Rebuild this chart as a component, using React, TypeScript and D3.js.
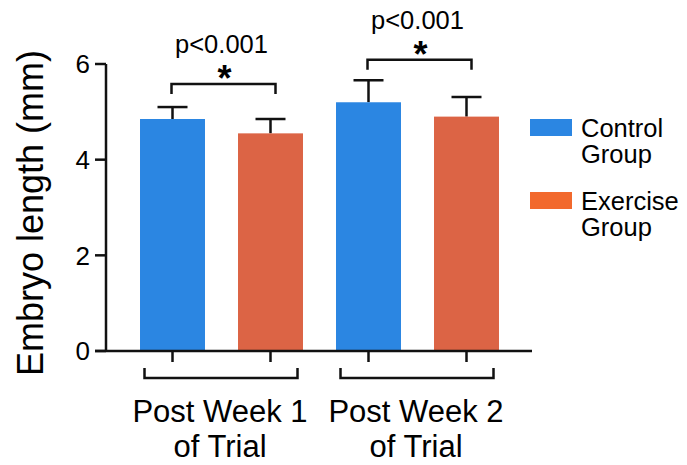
import React, { useEffect, useRef } from "react";
import * as d3 from "d3";

const weeks = ["Post Week 1", "Post Week 2"];
const groups = ["Control", "Exercise"];
const means = [
  [4.85, 4.55],
  [5.2, 4.9],
];
const errors = [
  [0.25, 0.3],
  [0.46, 0.41],
];
const pValues = ["p<0.001", "p<0.001"];
const bracketLevels = [5.58, 6.09];
const yTicks = [0, 2, 4, 6];

const App = () => {
  const svgRef = useRef<SVGSVGElement>(null);

  useEffect(() => {
    const width = 687;
    const height = 465;
    const font = "'Liberation Sans', Arial, Helvetica, sans-serif";
    const barColor = { Control: "#2b86e2", Exercise: "#dc6445" };
    const legendColor = { Control: "#2b86e2", Exercise: "#f2692d" };
    const stroke = "#111";
    const sw = 2.5;

    const svg = d3
      .select(svgRef.current)
      .attr("width", width)
      .attr("height", height)
      .style("font-family", font);

    svg.selectAll("*").remove();

    const x0 = d3.scaleBand().domain(weeks).range([123.5, 515.5]);
    const x1 = d3
      .scaleBand()
      .domain(groups)
      .range([0, x0.bandwidth()])
      .paddingInner(0.337)
      .paddingOuter(0.1685);
    const y = d3.scaleLinear().domain([0, 6]).range([351, 64]);

    const cx = (w: string, g: string) => x0(w)! + x1(g)! + x1.bandwidth() / 2;

    const rows = weeks.flatMap((w, i) =>
      groups.map((g, j) => ({ w, g, v: means[i][j], e: errors[i][j] }))
    );

    // error bars (upper half only), under the bars
    const eb = svg.append("g").attr("stroke", stroke).attr("stroke-width", sw);
    rows.forEach((d) => {
      const c = cx(d.w, d.g);
      eb.append("line").attr("x1", c).attr("x2", c).attr("y1", y(d.v)).attr("y2", y(d.v + d.e));
      eb.append("line").attr("x1", c - 15).attr("x2", c + 15).attr("y1", y(d.v + d.e)).attr("y2", y(d.v + d.e));
    });

    svg
      .append("g")
      .selectAll("rect")
      .data(rows)
      .join("rect")
      .attr("x", (d) => x0(d.w)! + x1(d.g)!)
      .attr("y", (d) => y(d.v))
      .attr("width", x1.bandwidth())
      .attr("height", (d) => y(0) - y(d.v))
      .attr("fill", (d) => barColor[d.g as "Control" | "Exercise"]);

    // axes
    const ax = svg.append("g").attr("stroke", stroke).attr("stroke-width", sw).attr("fill", "none");
    ax.append("line").attr("x1", 106).attr("x2", 106).attr("y1", y(6)).attr("y2", y(0));
    yTicks.forEach((t) => {
      ax.append("line").attr("x1", 95).attr("x2", 106).attr("y1", y(t)).attr("y2", y(t));
      svg
        .append("text")
        .attr("x", 90)
        .attr("y", y(t))
        .attr("dy", "0.36em")
        .attr("text-anchor", "end")
        .style("font-size", "26px")
        .text(t);
    });

    ax.append("line").attr("x1", 95).attr("x2", 532).attr("y1", y(0)).attr("y2", y(0));
    rows.forEach((d) => {
      const c = cx(d.w, d.g);
      ax.append("line").attr("x1", c).attr("x2", c).attr("y1", y(0)).attr("y2", y(0) + 11);
    });

    // group brackets + labels under the axis
    weeks.forEach((w) => {
      const l = x0(w)! + 21;
      const r = x0(w)! + x0.bandwidth() - 22;
      ax.append("path").attr("d", `M${l},${y(0) + 17}V${y(0) + 27}H${r}V${y(0) + 17}`);
      const mid = x0(w)! + x0.bandwidth() / 2 - 1.5;
      const t = svg.append("text").attr("text-anchor", "middle").style("font-size", "31px");
      t.append("tspan").attr("x", mid).attr("y", 422).text(w);
      t.append("tspan").attr("x", mid).attr("y", 457).text("of Trial");
    });

    // significance
    weeks.forEach((w, i) => {
      const l = cx(w, groups[0]) - 1;
      const r = cx(w, groups[1]) + 5;
      const by = y(bracketLevels[i]);
      svg
        .append("path")
        .attr("d", `M${l},${by + 10}V${by}H${r}V${by + 10}`)
        .attr("fill", "none")
        .attr("stroke", stroke)
        .attr("stroke-width", sw);
      const mid = (l + r) / 2;
      svg
        .append("text")
        .attr("x", mid + 1)
        .attr("y", by + 7)
        .attr("text-anchor", "middle")
        .style("font-size", "36px")
        .style("font-weight", "bold")
        .text("*");
      svg
        .append("text")
        .attr("x", mid - 2)
        .attr("y", by - 31)
        .attr("text-anchor", "middle")
        .style("font-size", "25.5px")
        .text(pValues[i]);
    });

    // y title
    svg
      .append("text")
      .attr("transform", "translate(43,213) rotate(-90)")
      .attr("text-anchor", "middle")
      .style("font-size", "36px")
      .text("Embryo length (mm)");

    // legend
    const lg = svg.append("g");
    groups.forEach((g, i) => {
      const top = 119 + i * 73;
      lg.append("rect")
        .attr("x", 530)
        .attr("y", top)
        .attr("width", 42)
        .attr("height", 17)
        .attr("fill", legendColor[g as "Control" | "Exercise"]);
      const t = lg.append("text").style("font-size", "25.5px");
      t.append("tspan").attr("x", 581).attr("y", top + 18).text(g);
      t.append("tspan").attr("x", 581).attr("y", top + 44).text("Group");
    });
  }, []);

  return (
    <svg
      ref={svgRef}
      style={{ position: "absolute", left: 0, top: 0, background: "#fff" }}
    ></svg>
  );
};

export default App;
